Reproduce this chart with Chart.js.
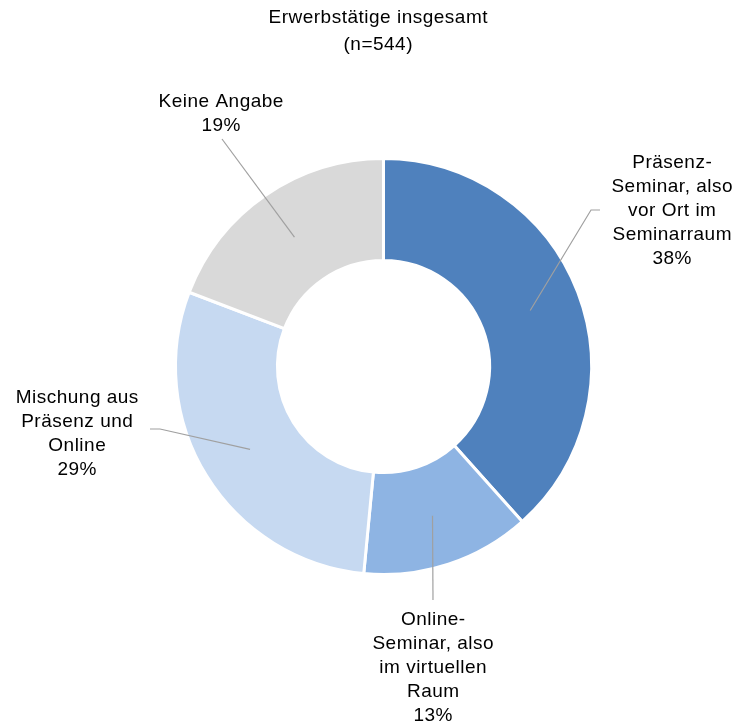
<!DOCTYPE html>
<html lang="de">
<head>
<meta charset="utf-8">
<title>Erwerbstätige insgesamt</title>
<script src="https://cdn.jsdelivr.net/npm/chart.js@4/dist/chart.umd.min.js"></script>
<style>
  html, body { margin: 0; padding: 0; background: #fff; }
  #wrap { width: 737px; height: 725px; }
</style>
</head>
<body>
<div id="wrap"><canvas id="formatChart" width="737" height="725"></canvas></div>
<script>
// ─── Data ───────────────────────────────────────────────────────────────
const titleLines = ["Erwerbstätige insgesamt", "(n=544)"];

const categories = [
  ["Präsenz-", "Seminar, also", "vor Ort im", "Seminarraum"],
  ["Online-", "Seminar, also", "im virtuellen", "Raum"],
  ["Mischung aus", "Präsenz und", "Online"],
  ["Keine Angabe"],
];

const shares = [38, 13, 29, 19];

const sliceColors = ["#4f81bd", "#8eb4e3", "#c6d9f1", "#d9d9d9"];

// ─── Label placement (text centre / first row, leader bend points) ──────
const labelLayout = [
  { x: 672, y: 163, path: [[591, 210], [600, 210]] },
  { x: 433, y: 620, path: [[433, 600]] },
  { x: 77,  y: 398, path: [[160, 429], [150, 429]] },
  { x: 221, y: 102, path: [[222, 139]] },
];

const FONT = "19px 'Liberation Sans', Arial, sans-serif";
const LINE_H = 24;

// centred text; letterSpacing adds a trailing gap, so nudge by half of it
function drawCentered(ctx, text, x, y) {
  ctx.fillText(text, x + 0.25, y);
}

// ─── Title + callout labels ─────────────────────────────────────────────
const calloutPlugin = {
  id: "callouts",
  afterDraw(chart) {
    const ctx = chart.ctx;
    const arcs = chart.getDatasetMeta(0).data;
    ctx.save();
    ctx.font = FONT;
    ctx.letterSpacing = "0.5px";
    ctx.fillStyle = "#000";
    ctx.textAlign = "center";
    ctx.textBaseline = "middle";

    titleLines.forEach((t, i) => drawCentered(ctx, t, 378, 18 + i * 27));

    arcs.forEach((arc, i) => {
      const mid = arc.tooltipPosition();
      const lay = labelLayout[i];

      // leader line from the ring's mid-radius out to the text
      ctx.strokeStyle = "#a0a0a0";
      ctx.lineWidth = 1.2;
      ctx.beginPath();
      ctx.moveTo(mid.x, mid.y);
      lay.path.forEach(([px, py]) => ctx.lineTo(px, py));
      ctx.stroke();

      const lines = [...categories[i], shares[i] + "%"];
      lines.forEach((t, k) => drawCentered(ctx, t, lay.x, lay.y + k * LINE_H));
    });
    ctx.restore();
  },
};

new Chart(document.getElementById("formatChart"), {
  type: "doughnut",
  data: {
    labels: categories.map((c) => c.join(" ")),
    datasets: [{
      data: shares,
      backgroundColor: sliceColors,
      borderColor: "#fff",
      borderWidth: 3,
    }],
  },
  options: {
    responsive: false,
    animation: false,
    cutout: "51%",
    layout: { padding: { left: 174, right: 144, top: 157, bottom: 149 } },
    plugins: {
      legend: { display: false },
      tooltip: { enabled: false },
    },
  },
  plugins: [calloutPlugin],
});
</script>
</body>
</html>
